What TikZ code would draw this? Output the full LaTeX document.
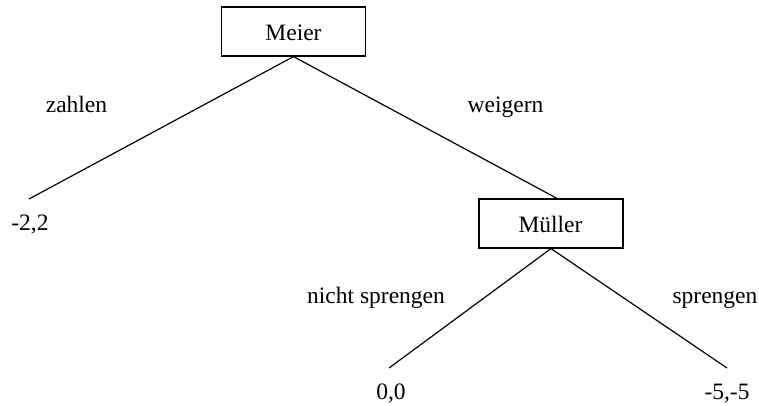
\documentclass[tikz,border=0pt]{standalone}
\usepackage{fontspec}
\setmainfont{Liberation Serif}
\begin{document}
\begin{tikzpicture}[x=1pt,y=-1pt,
  every node/.style={font=\fontsize{23.5}{28}\selectfont, inner sep=0pt},
  player/.style={draw, line width=1.2pt, minimum width=144pt, minimum height=49pt},
  lbl/.style={anchor=base},
  edge/.style={line width=1.2pt}]
\useasboundingbox (0,0) rectangle (759,405);
\node[player] (meier) at (293.5,31.5) {};
\node[lbl] (tmeier) at (293.5,40) {Meier};
\node[player] (mueller) at (551,223.5) {};
\node[lbl] (tmueller) at (550.5,232) {Müller};
\coordinate (lz) at (29,199);
\coordinate (lnn) at (389,368);
\coordinate (ls) at (727,368);
\draw[edge] (meier.south) -- (lz);
\draw[edge] (meier.south) -- ([xshift=6pt]mueller.north);
\draw[edge] (mueller.south) -- (lnn);
\draw[edge] (mueller.south) -- (ls);
\node[lbl] (zahlen) at (76.5,112) {zahlen};
\node[lbl] (weigern) at (505.5,112) {weigern};
\node[lbl] (nicht) at (376,303) {nicht sprengen};
\node[lbl] (spr) at (715,303) {sprengen};
\node[lbl] (p1) at (30,230) {-2,2};
\node[lbl] (p2) at (391,399) {0,0};
\node[lbl] (p3) at (727,399) {-5,-5};
\end{tikzpicture}
\end{document}
